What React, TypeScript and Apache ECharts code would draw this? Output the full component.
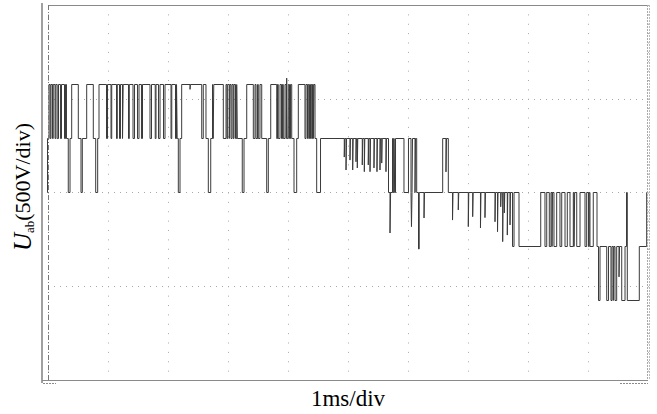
import React, { useEffect, useRef } from "react";
import * as echarts from "echarts";

// time in ms (1 ms/div), voltage in V (500 V/div)
const xMin = 0;
const xMax = 10;
const xInterval = 1;
const yMin = -1000;
const yMax = 1000;
const yInterval = 500;

// Segment A: +2E / +E PWM with dips to 0
const segA: [number, number][] = [
  [-0.1, 0], [-0.008, 288], [0.017, 576], [0.037, 288], [0.05, 576], [0.075, 288], [0.087, 576],
  [0.117, 288], [0.13, 576], [0.153, 288], [0.175, 576], [0.208, 288], [0.225, 576], [0.275, 288],
  [0.292, 576], [0.308, 288], [0.338, 0], [0.367, 288], [0.395, 576], [0.505, 288], [0.55, 0],
  [0.572, 288], [0.645, 576], [0.755, 288], [0.795, 0], [0.828, 288], [0.85, 576], [0.975, 288],
  [0.992, 576], [1.05, 288], [1.062, 576], [1.142, 288], [1.155, 576], [1.192, 288], [1.208, 576],
  [1.242, 288], [1.253, 576], [1.342, 288], [1.355, 576], [1.417, 288], [1.442, 576], [1.492, 288],
  [1.517, 576], [1.558, 288], [1.575, 576], [1.7, 288], [1.725, 576], [1.787, 288], [1.8, 576],
  [1.842, 288], [1.867, 576], [1.925, 288], [1.95, 576], [2.05, 288], [2.063, 576], [2.125, 288],
  [2.142, 576], [2.153, 288], [2.172, 0], [2.2, 288], [2.228, 576],
  [2.367, 550], [2.373, 576], [2.562, 288], [2.588, 576], [2.633, 288], [2.672, 0], [2.712, 288],
  [2.742, 576], [2.753, 288], [2.763, 576], [2.922, 288], [2.967, 576], [2.983, 288], [2.995, 576],
  [3.022, 288], [3.033, 576], [3.05, 288], [3.067, 576], [3.088, 288], [3.1, 576], [3.125, 288],
  [3.145, 576], [3.155, 288], [3.238, 0], [3.267, 288], [3.312, 576], [3.422, 288], [3.45, 576],
  [3.467, 288], [3.492, 576], [3.505, 288], [3.533, 576], [3.562, 288], [3.645, 0], [3.672, 288],
  [3.712, 576], [3.812, 288], [3.825, 576], [3.838, 288], [3.867, 576], [3.892, 288], [3.908, 576],
  [3.922, 288], [3.95, 576], [3.972, 288], [3.978, 610], [3.985, 288], [4.005, 576], [4.025, 288],
  [4.042, 576], [4.062, 288], [4.1, 0], [4.145, 288], [4.172, 576], [4.283, 288], [4.3, 576],
  [4.325, 288], [4.338, 576], [4.358, 288], [4.375, 576], [4.395, 288], [4.408, 576], [4.422, 288],
  [4.433, 576], [4.45, 288], [4.478, 0],
];

// Segment B: +E level with narrow dips, then 0 / +E switching
const segB: [number, number][] = [
  [4.542, 288], [4.938, 189], [4.946, 288], [4.967, 120], [4.975, 288], [5.033, 173], [5.041, 288],
  [5.078, 120], [5.086, 288], [5.133, 164], [5.141, 288], [5.155, 131], [5.163, 288], [5.238, 147],
  [5.246, 288], [5.272, 111], [5.28, 288], [5.338, 147], [5.346, 288], [5.367, 111], [5.375, 288],
  [5.433, 131], [5.441, 288], [5.483, 111], [5.491, 288], [5.533, 120], [5.541, 288], [5.562, 157],
  [5.57, 288], [5.633, 111], [5.641, 288], [5.675, 0], [5.7, -216], [5.71, 0], [5.742, 288],
  [5.755, 0], [5.767, 288], [5.778, 0], [5.792, 288], [5.933, 0], [6.008, 288], [6.05, 0],
  [6.058, -182], [6.067, 0], [6.075, 288], [6.117, 0], [6.125, 288], [6.145, 0], [6.175, -301],
  [6.187, 0], [6.267, -136], [6.275, 0], [6.578, 288], [6.633, 110], [6.642, 288], [6.672, 0],
];

// Segment C: 0 level with narrow negative dips
const segC: [number, number][] = [
  [6.742, -147], [6.75, 0], [6.838, -93], [6.846, 0], [7.005, -182], [7.013, 0], [7.078, -129],
  [7.086, 0], [7.208, -189], [7.216, 0], [7.283, -134], [7.291, 0], [7.45, -156], [7.458, 0],
  [7.492, -209], [7.5, 0], [7.545, -76], [7.553, 0], [7.578, -262], [7.586, 0], [7.605, -109],
  [7.613, 0], [7.655, -227], [7.663, 0], [7.7, -173], [7.708, 0], [7.742, -288], [7.767, 0],
  [7.85, -288],
];

// Segment D: 0 / -E PWM
const segD: [number, number][] = [
  [8.212, 0], [8.283, -288], [8.312, 0], [8.355, -288], [8.383, 0], [8.4, -288], [8.408, 0],
  [8.433, -288], [8.478, 0], [8.533, -288], [8.562, 0], [8.617, -288], [8.655, 0], [8.7, -288],
  [8.755, 0], [8.767, -288], [8.778, 0], [8.812, -288], [8.867, 0], [8.95, -288], [8.978, 0],
  [9.008, -288], [9.02, 0], [9.033, -288], [9.088, 0], [9.15, -288],
];

// Segment E: -E / -2E PWM
const segE: [number, number][] = [
  [9.175, -576], [9.2, -288], [9.312, -576], [9.342, -288], [9.383, -576], [9.4, -288],
  [9.422, -576], [9.433, -288], [9.45, -576], [9.478, -288], [9.517, -450], [9.525, -288],
  [9.562, -576], [9.617, -288], [9.642, 0], [9.655, -576], [9.855, -288], [9.978, 0], [10, 0],
];

const xTitle = "1ms/div";

export default function App() {
  const ref = useRef<HTMLDivElement>(null);

  useEffect(() => {
    if (!ref.current) return;
    const chart = echarts.init(ref.current, null, { renderer: "svg" });
    const serif = "Liberation Serif";
    chart.setOption({
      animation: false,
      backgroundColor: "#ffffff",
      grid: { left: 48, top: 5, width: 600, height: 375, containLabel: false },
      xAxis: {
        type: "value",
        min: xMin,
        max: xMax,
        interval: xInterval,
        axisLine: { show: false },
        axisTick: { show: false },
        axisLabel: { show: false },
        splitLine: {
          show: true,
          lineStyle: { color: "#a8a8a8", width: 1, type: [1, 8.375] },
        },
      },
      yAxis: {
        type: "value",
        min: yMin,
        max: yMax,
        interval: yInterval,
        axisLine: { show: false },
        axisTick: { show: false },
        axisLabel: { show: false },
        splitLine: {
          show: true,
          lineStyle: { color: "#a8a8a8", width: 1, type: [1, 5] },
        },
      },
      series: [
        {
          type: "line",
          step: "end",
          symbol: "none",
          clip: false,
          silent: true,
          lineStyle: { color: "#3a3a3a", width: 1 },
          data: [...segA, ...segB, ...segC, ...segD, ...segE],
        },
      ],
      graphic: [
        { type: "line", z: 10, shape: { x1: 48, y1: 5.5, x2: 648, y2: 5.5 }, style: { stroke: "#8a8a8a", lineWidth: 1 } },
        { type: "line", z: 10, shape: { x1: 42, y1: 3, x2: 42, y2: 383 }, style: { stroke: "#a0a0a0", lineWidth: 2 } },
        { type: "line", z: 10, shape: { x1: 48.5, y1: 5, x2: 48.5, y2: 380 }, style: { stroke: "#777777", lineWidth: 1, lineDash: [5, 2, 1, 2] } },
        { type: "line", z: 10, shape: { x1: 42, y1: 380.5, x2: 648, y2: 380.5 }, style: { stroke: "#8a8a8a", lineWidth: 1 } },
        { type: "line", z: 10, shape: { x1: 647.5, y1: 5, x2: 647.5, y2: 380 }, style: { stroke: "#aaaaaa", lineWidth: 1, lineDash: [2, 1] } },
        { type: "line", z: 10, shape: { x1: 649.5, y1: 5, x2: 649.5, y2: 380 }, style: { stroke: "#bbbbbb", lineWidth: 1, lineDash: [2, 1] } },
        { type: "line", z: 10, shape: { x1: 43, y1: 383.5, x2: 56, y2: 383.5 }, style: { stroke: "#8a8a8a", lineWidth: 1, lineDash: [2, 1] } },
        { type: "line", z: 10, shape: { x1: 620, y1: 383.5, x2: 648, y2: 383.5 }, style: { stroke: "#8a8a8a", lineWidth: 1, lineDash: [2, 1] } },
        {
          type: "text",
          z: 10,
          x: 348,
          y: 398,
          style: {
            text: xTitle,
            fill: "#000000",
            fontFamily: serif,
            fontSize: 23,
            align: "center",
            verticalAlign: "middle",
          },
        },
        {
          type: "text",
          z: 10,
          x: 22,
          y: 187,
          rotation: Math.PI / 2,
          style: {
            text: "{u|U}{s|ab}{n|(500V/div)}",
            fill: "#000000",
            fontFamily: serif,
            fontSize: 22,
            align: "center",
            verticalAlign: "middle",
            rich: {
              u: { fontFamily: serif, fontSize: 25, fontStyle: "italic", fill: "#000000", lineHeight: 28, verticalAlign: "middle" },
              s: { fontFamily: serif, fontSize: 13, fill: "#000000", lineHeight: 13, verticalAlign: "bottom" },
              n: { fontFamily: serif, fontSize: 22, fill: "#000000", lineHeight: 28, verticalAlign: "middle" },
            },
          },
        },
      ],
    });
    return () => chart.dispose();
  }, []);

  return (
    <div
      ref={ref}
      style={{ position: "fixed", left: 0, top: 0, width: 657, height: 414, background: "#ffffff" }}
    />
  );
}
